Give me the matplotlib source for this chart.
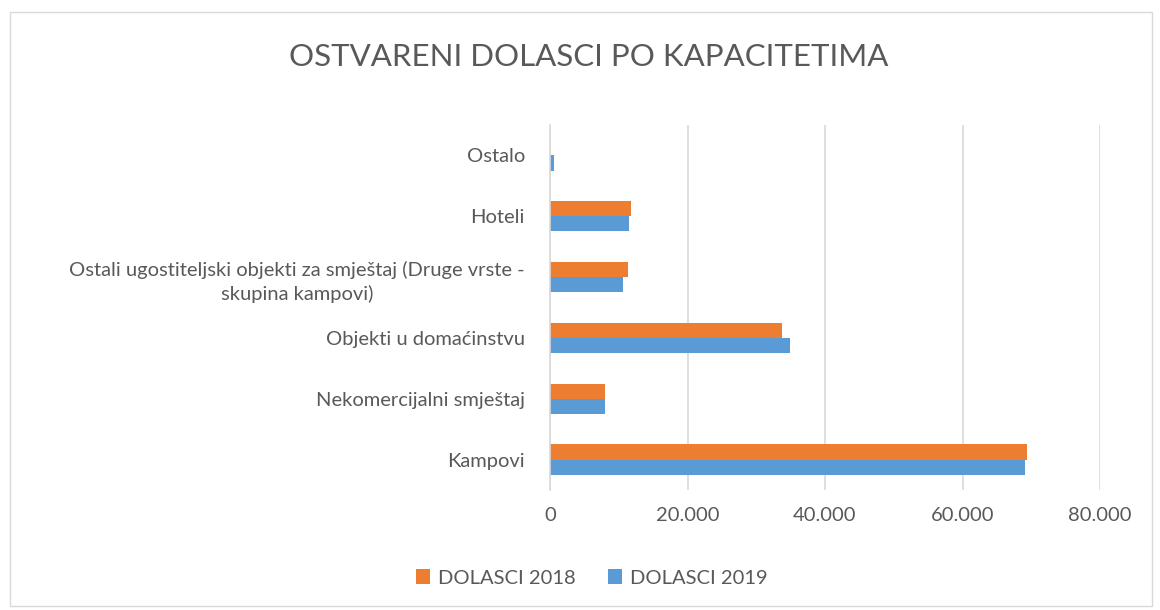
import matplotlib.pyplot as plt
import numpy as np
from matplotlib.patches import Rectangle

plt.rcParams["font.family"] = ["Lato", "DejaVu Sans"]

categories = [
    "Kampovi",
    "Nekomercijalni smještaj",
    "Objekti u domaćinstvu",
    "Ostali ugostiteljski objekti za smještaj (Druge vrste -\nskupina kampovi)",
    "Hoteli",
    "Ostalo",
]
dolasci_2018 = [69420, 7970, 33810, 11300, 11840, 0]
dolasci_2019 = [69080, 7970, 34880, 10580, 11490, 540]
xticks = [0, 20000, 40000, 60000, 80000]
xtick_labels = ["0", "20.000", "40.000", "60.000", "80.000"]

ORANGE = "#ED7D31"
BLUE = "#5B9BD5"
TEXT = "#595959"

fig = plt.figure(figsize=(11.6, 6.1), dpi=100)
ax = fig.add_axes([550 / 1160, 1 - 490 / 610, 550 / 1160, 365 / 610])

y = np.arange(len(categories))
h = 0.25
ax.barh(y + h / 2, dolasci_2018, height=h, color=ORANGE, label="DOLASCI 2018")
ax.barh(y - h / 2, dolasci_2019, height=h, color=BLUE, label="DOLASCI 2019")

ax.set_xlim(0, 80000)
ax.set_ylim(-0.5, len(categories) - 0.5)
ax.set_xticks(xticks)
ax.set_xticklabels(xtick_labels)
ax.set_yticks(y)
ax.set_yticklabels(categories, multialignment="center", linespacing=1.45)
ax.tick_params(axis="both", length=0, labelsize=14.5, labelcolor=TEXT)
ax.tick_params(axis="x", pad=12)
ax.tick_params(axis="y", pad=18)
ax.grid(axis="x", color="#D9D9D9", linewidth=1.2)
ax.set_axisbelow(True)
for s in ["top", "right", "bottom"]:
    ax.spines[s].set_visible(False)
ax.spines["left"].set_color("#D9D9D9")
ax.spines["left"].set_linewidth(1.2)

fig.text(589 / 1160, 1 - 57 / 610, "OSTVARENI DOLASCI PO KAPACITETIMA",
         ha="center", va="center", fontsize=22.5, color=TEXT)

handles, labels = ax.get_legend_handles_labels()
fig.legend(handles, labels, loc="center", bbox_to_anchor=(592 / 1160, 1 - 578 / 610),
           ncol=2, frameon=False, fontsize=14.5, labelcolor=TEXT,
           handlelength=0.7, handleheight=0.7, handletextpad=0.4, columnspacing=1.6)

fig.patches.append(Rectangle((10 / 1160, 4 / 610), 1142 / 1160, 594 / 610,
                             transform=fig.transFigure, fill=False,
                             edgecolor="#D9D9D9", linewidth=1))

fig.savefig("out.png", dpi=100)
